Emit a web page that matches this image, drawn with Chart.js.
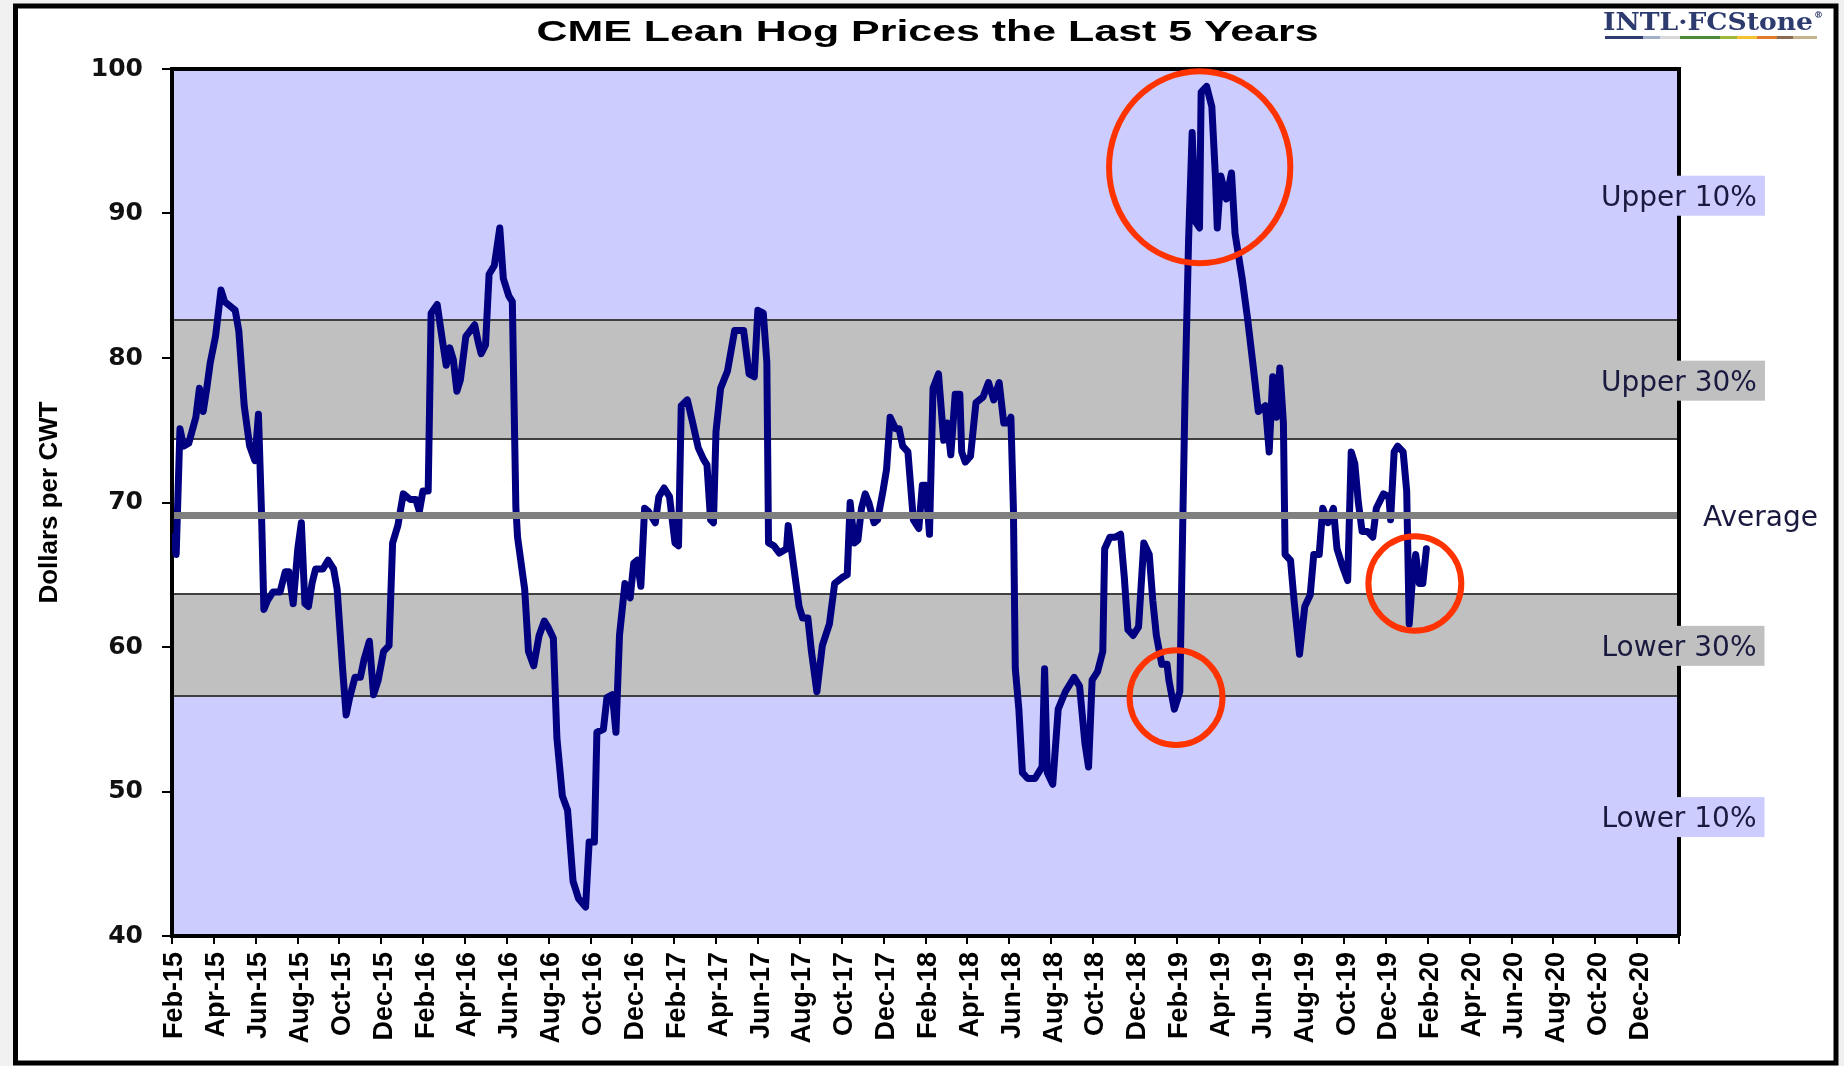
<!DOCTYPE html>
<html>
<head>
<meta charset="utf-8">
<title>CME Lean Hog Prices the Last 5 Years</title>
<script src="https://cdn.jsdelivr.net/npm/chart.js@4.4.1/dist/chart.umd.min.js"></script>
<style>
  html, body { margin: 0; padding: 0; background: #f0f0f0; }
  #caixa { width: 1844px; height: 1066px; position: relative; }
</style>
</head>
<body>
<div id="caixa"><canvas id="graficoSuinos"></canvas></div>
<script>
// Meses contados a partir de Feb-15 (0 = Feb-15, 12 = Feb-16, ...)
const mesesDesdeFev15 = [
    0, 0.20, 0.38, 0.55, 0.80, 1.14, 1.31, 1.49, 1.66, 1.83,
    2.08, 2.34, 2.51, 3.02, 3.19, 3.45, 3.71, 3.96, 4.13, 4.27,
    4.39, 4.56, 4.82, 5.16, 5.41, 5.58, 5.79, 6.01, 6.18, 6.35,
    6.52, 6.69, 6.86, 7.21, 7.46, 7.72, 7.89, 8.15, 8.32, 8.49,
    8.74, 9.00, 9.17, 9.43, 9.63, 9.85, 10.11, 10.37, 10.54, 10.79,
    11.05, 11.39, 11.65, 11.82, 11.99, 12.24, 12.38, 12.67, 12.93, 13.10,
    13.27, 13.44, 13.61, 13.78, 14.04, 14.46, 14.63, 14.77, 14.98, 15.15,
    15.40, 15.66, 15.83, 16.09, 16.26, 16.34, 16.43, 16.51, 16.85, 17.03,
    17.28, 17.54, 17.79, 17.96, 18.22, 18.39, 18.65, 18.90, 19.16, 19.42,
    19.76, 19.93, 20.18, 20.30, 20.61, 20.78, 21.04, 21.21, 21.38, 21.64,
    21.89, 22.06, 22.23, 22.40, 22.58, 22.75, 23.09, 23.26, 23.51, 23.77,
    24.03, 24.20, 24.33, 24.62, 24.88, 25.14, 25.39, 25.56, 25.73, 25.87,
    25.99, 26.21, 26.54, 26.88, 27.31, 27.57, 27.82, 27.99, 28.25, 28.42,
    28.50, 28.76, 29.02, 29.36, 29.44, 29.70, 29.96, 30.13, 30.38, 30.55,
    30.81, 31.07, 31.41, 31.66, 32.01, 32.26, 32.40, 32.60, 32.77, 32.94,
    33.12, 33.29, 33.54, 33.71, 33.97, 34.14, 34.31, 34.57, 34.74, 34.91,
    35.16, 35.42, 35.68, 35.85, 36.02, 36.19, 36.36, 36.62, 36.87, 37.04,
    37.21, 37.42, 37.64, 37.73, 37.90, 38.15, 38.41, 38.75, 39.01, 39.26,
    39.52, 39.74, 39.95, 40.08, 40.20, 40.29, 40.46, 40.63, 40.88, 41.23,
    41.57, 41.69, 41.82, 42.08, 42.34, 42.68, 43.10, 43.36, 43.62, 43.79,
    43.96, 44.22, 44.47, 44.56, 44.81, 45.07, 45.32, 45.50, 45.67, 45.92,
    46.18, 46.43, 46.69, 46.86, 47.03, 47.29, 47.54, 47.63, 47.89, 48.15,
    48.40, 48.57, 48.74, 48.91, 49.09, 49.17, 49.43, 49.68, 49.85, 49.94,
    50.11, 50.37, 50.62, 50.79, 51.13, 51.39, 51.65, 51.90, 52.24, 52.42,
    52.59, 52.76, 52.93, 53.10, 53.18, 53.44, 53.61, 53.87, 54.12, 54.38,
    54.55, 54.81, 54.98, 55.23, 55.49, 55.66, 55.92, 56.17, 56.34, 56.51,
    56.68, 56.86, 57.11, 57.37, 57.54, 57.88, 58.14, 58.22, 58.39, 58.56,
    58.82, 58.99, 59.11, 59.25, 59.42, 59.59, 59.76, 59.93
];

// Preço do suíno magro (dólares por CWT), um valor para cada mês acima
const precosSuino = [
    67.6, 66.4, 75.1, 73.9, 74.1, 75.9, 77.9, 76.3, 77.9, 79.7,
    81.5, 84.7, 83.9, 83.3, 81.9, 76.7, 73.9, 72.9, 76.1, 69.6,
    62.6, 63.2, 63.8, 63.8, 65.2, 65.2, 63.0, 66.8, 68.6, 63.0,
    62.8, 64.4, 65.4, 65.4, 66.0, 65.4, 64.0, 58.5, 55.3, 56.5,
    57.9, 57.9, 59.1, 60.4, 56.7, 57.7, 59.7, 60.1, 67.2, 68.4,
    70.6, 70.2, 70.2, 69.4, 70.8, 70.8, 83.1, 83.7, 81.1, 79.5,
    80.7, 79.9, 77.7, 78.5, 81.5, 82.3, 81.1, 80.3, 80.9, 85.8,
    86.4, 89.0, 85.5, 84.3, 83.9, 77.1, 69.6, 67.6, 64.0, 59.7,
    58.7, 60.8, 61.8, 61.4, 60.6, 53.7, 49.7, 48.7, 43.8, 42.6,
    42.0, 46.5, 46.5, 54.1, 54.3, 56.5, 56.7, 54.1, 60.8, 64.4,
    63.4, 65.8, 66.0, 64.2, 69.6, 69.4, 68.6, 70.4, 71.0, 70.4,
    67.2, 67.0, 76.7, 77.1, 75.5, 73.8, 73.0, 72.6, 68.8, 68.6,
    74.9, 77.9, 79.1, 81.9, 81.9, 78.9, 78.7, 83.3, 83.1, 79.7,
    67.2, 67.0, 66.5, 66.8, 68.4, 65.6, 62.8, 62.0, 62.0, 59.7,
    56.9, 60.1, 61.6, 64.4, 64.8, 65.0, 70.0, 67.2, 67.4, 69.6,
    70.6, 70.0, 68.6, 68.8, 70.8, 72.3, 75.9, 75.1, 75.1, 73.9,
    73.5, 68.8, 68.2, 71.2, 71.2, 67.8, 77.9, 78.9, 74.3, 75.5,
    73.3, 77.5, 77.5, 73.5, 72.8, 73.2, 76.9, 77.3, 78.3, 77.1,
    78.3, 75.5, 75.5, 75.9, 69.6, 58.5, 55.7, 51.3, 50.9, 50.9,
    51.7, 58.5, 51.3, 50.5, 55.7, 56.9, 57.9, 57.3, 53.3, 51.7,
    57.7, 58.3, 59.7, 66.8, 67.6, 67.6, 67.8, 64.8, 61.2, 60.8,
    61.4, 67.2, 66.4, 63.2, 60.8, 58.8, 58.8, 57.7, 55.7, 56.9,
    77.5, 88.2, 95.6, 89.4, 89.0, 98.4, 98.8, 97.4, 92.6, 89.0,
    92.6, 91.0, 92.8, 88.6, 85.5, 82.7, 79.5, 76.3, 76.7, 73.5,
    78.7, 75.9, 79.3, 75.5, 66.4, 66.0, 63.2, 59.5, 62.8, 63.6,
    66.4, 66.4, 69.6, 68.6, 69.6, 66.8, 65.6, 64.6, 73.5, 72.7,
    70.0, 68.0, 68.0, 67.6, 69.6, 70.6, 70.4, 68.8, 73.5, 73.9,
    73.5, 70.8, 61.6, 64.4, 66.4, 64.4, 64.4, 66.8
];

// Rótulos do eixo X (um a cada 2 meses)
const rotulosEixoX = [
    'Feb-15', 'Apr-15', 'Jun-15', 'Aug-15', 'Oct-15', 'Dec-15',
    'Feb-16', 'Apr-16', 'Jun-16', 'Aug-16', 'Oct-16', 'Dec-16',
    'Feb-17', 'Apr-17', 'Jun-17', 'Aug-17', 'Oct-17', 'Dec-17',
    'Feb-18', 'Apr-18', 'Jun-18', 'Aug-18', 'Oct-18', 'Dec-18',
    'Feb-19', 'Apr-19', 'Jun-19', 'Aug-19', 'Oct-19', 'Dec-19',
    'Feb-20', 'Apr-20', 'Jun-20', 'Aug-20', 'Oct-20', 'Dec-20'
];

// Faixas de percentil (limites em dólares) e seus nomes
const limitesFaixas = [40, 56.6, 63.7, 74.4, 82.6, 100];
const nomesFaixas = ['Lower 10%', 'Lower 30%', '', 'Upper 30%', 'Upper 10%'];
const mediaCinco = 69.1;

// Círculos vermelhos de destaque: centro (mês, preço) e raios
const destaqueMes = [49.1, 47.97, 59.38];
const destaquePreco = [93.2, 56.5, 64.4];
const destaqueRaioMes = [4.33, 2.22, 2.22];
const destaqueRaioPreco = [6.65, 3.28, 3.27];

const coresFaixas = ['#ccccff', '#c0c0c0', '#ffffff', '#c0c0c0', '#ccccff'];

// --- Plugin: moldura, faixas coloridas e bordas ---
const pluginFundo = {
    id: 'pluginFundo',
    beforeDraw(chart) {
        const { ctx, chartArea: a, scales: { y } } = chart;
        ctx.save();
        ctx.fillStyle = '#f0f0f0';
        ctx.fillRect(0, 0, chart.width, chart.height);
        ctx.fillStyle = '#ffffff';
        ctx.fillRect(15, 6, 1821, 1057);
        ctx.strokeStyle = '#000';
        ctx.lineWidth = 5;
        ctx.strokeRect(15.5, 6, 1820.5, 1057);

        for (let i = 0; i < coresFaixas.length; i++) {
            const yBaixo = y.getPixelForValue(limitesFaixas[i]);
            const yAlto = y.getPixelForValue(limitesFaixas[i + 1]);
            ctx.fillStyle = coresFaixas[i];
            ctx.fillRect(a.left, yAlto, a.right - a.left, yBaixo - yAlto);
        }
        ctx.strokeStyle = '#404040';
        ctx.lineWidth = 2;
        for (let i = 1; i < limitesFaixas.length - 1; i++) {
            const py = Math.round(y.getPixelForValue(limitesFaixas[i]));
            ctx.beginPath();
            ctx.moveTo(a.left, py);
            ctx.lineTo(a.right, py);
            ctx.stroke();
        }
        ctx.strokeStyle = '#000';
        ctx.lineWidth = 4;
        ctx.beginPath();
        ctx.moveTo(a.left, a.top);
        ctx.lineTo(a.right, a.top);
        ctx.lineTo(a.right, a.bottom);
        ctx.stroke();
        ctx.restore();
    },
    afterDatasetsDraw(chart) {
        // linha da média por cima da série
        const { ctx, chartArea: a, scales: { y } } = chart;
        const py = y.getPixelForValue(mediaCinco);
        ctx.save();
        ctx.strokeStyle = '#808080';
        ctx.lineWidth = 7;
        ctx.beginPath();
        ctx.moveTo(a.left + 2, py);
        ctx.lineTo(a.right - 2, py);
        ctx.stroke();
        ctx.restore();
    },
    afterDraw(chart) {
        const { ctx, chartArea: a, scales: { x, y } } = chart;
        ctx.save();

        // título esticado na horizontal, como na imagem original
        ctx.font = 'bold 30px "Liberation Sans"';
        ctx.fillStyle = '#000';
        ctx.textAlign = 'center';
        ctx.textBaseline = 'alphabetic';
        const titulo = 'CME Lean Hog Prices the Last 5 Years';
        const larguraTitulo = ctx.measureText(titulo).width;
        ctx.save();
        ctx.translate((a.left + a.right) / 2 + 2, 41);
        ctx.scale(782 / larguraTitulo, 1);
        ctx.fillText(titulo, 0, 0);
        ctx.restore();

        // logotipo
        ctx.font = 'bold 24px "DejaVu Serif"';
        ctx.fillStyle = '#2e3b6e';
        ctx.textAlign = 'left';
        const logo = 'INTL\u00b7FCStone';
        const larguraLogo = ctx.measureText(logo).width;
        ctx.save();
        ctx.translate(1603, 30);
        ctx.scale(210 / larguraLogo, 1);
        ctx.fillText(logo, 0, 0);
        ctx.restore();
        ctx.font = 'bold 9px "DejaVu Serif"';
        ctx.fillText('\u00ae', 1814, 18);
        const pedacos = [
            [1605, 1643, '#2e3b6e'], [1643, 1660, '#9fb0c8'], [1660, 1680, '#d8d8d8'],
            [1680, 1720, '#4a8a3a'], [1720, 1737, '#9cb83a'], [1737, 1757, '#f2c230'],
            [1757, 1777, '#e07b2a'], [1777, 1793, '#8a6a50'], [1793, 1817, '#c8b48a']
        ];
        pedacos.forEach(([x1, x2, cor]) => {
            ctx.fillStyle = cor;
            ctx.fillRect(x1, 36, x2 - x1, 3);
        });

        // rótulos das faixas, centrados na borda direita do gráfico
        ctx.font = '28px "DejaVu Sans"';
        ctx.textAlign = 'center';
        ctx.textBaseline = 'middle';
        for (let i = 0; i < nomesFaixas.length; i++) {
            if (!nomesFaixas[i]) continue;
            const cy = (y.getPixelForValue(limitesFaixas[i]) + y.getPixelForValue(limitesFaixas[i + 1])) / 2;
            const w = ctx.measureText(nomesFaixas[i]).width + 16;
            ctx.fillStyle = coresFaixas[i];
            ctx.fillRect(a.right - w / 2, cy - 19, w, 40);
            ctx.fillStyle = '#1a1a40';
            ctx.fillText(nomesFaixas[i], a.right, cy + 4);
        }
        ctx.textAlign = 'left';
        ctx.fillText('Average', a.right + 24, y.getPixelForValue(mediaCinco) + 3);

        // círculos vermelhos
        ctx.strokeStyle = '#ff3300';
        ctx.lineWidth = 6;
        for (let i = 0; i < destaqueMes.length; i++) {
            const cx = x.getPixelForValue(destaqueMes[i]);
            const cy = y.getPixelForValue(destaquePreco[i]);
            const rx = x.getPixelForValue(destaqueMes[i] + destaqueRaioMes[i]) - cx;
            const ry = cy - y.getPixelForValue(destaquePreco[i] + destaqueRaioPreco[i]);
            ctx.beginPath();
            ctx.ellipse(cx, cy, rx, ry, 0, 0, Math.PI * 2);
            ctx.stroke();
        }
        ctx.restore();
    }
};

document.addEventListener('DOMContentLoaded', function() {
    const ctx = document.getElementById('graficoSuinos').getContext('2d');

    const pontos = mesesDesdeFev15.map((m, i) => ({ x: m, y: precosSuino[i] }));

    new Chart(ctx, {
        type: 'line',
        data: {
            datasets: [{
                label: 'Lean Hogs',
                data: pontos,
                borderColor: '#000080',
                borderWidth: 7,
                pointRadius: 0,
                tension: 0,
                borderJoinStyle: 'round',
                borderCapStyle: 'round'
            }]
        },
        options: {
            responsive: true,
            maintainAspectRatio: false,
            devicePixelRatio: 1,
            animation: false,
            events: [],
            layout: { padding: { left: 20, right: 165, top: 69, bottom: 10 } },
            plugins: {
                legend: { display: false },
                title: { display: false },
                tooltip: { enabled: false }
            },
            scales: {
                x: {
                    type: 'linear',
                    min: 0,
                    max: 72,
                    ticks: {
                        stepSize: 2,
                        autoSkip: false,
                        maxRotation: 90,
                        minRotation: 90,
                        padding: 8,
                        labelOffset: 3,
                        color: '#000',
                        font: { family: 'Liberation Sans', weight: 'bold', size: 27 },
                        callback: (valor) => rotulosEixoX[Math.round(valor / 2)] ?? ''
                    },
                    grid: { drawOnChartArea: false, drawTicks: true, tickLength: 8, color: '#000', lineWidth: 2 },
                    border: { color: '#000', width: 4 },
                    afterFit: (escala) => { escala.height = 1066 - 936 - 10; }
                },
                y: {
                    min: 40,
                    max: 100,
                    ticks: {
                        stepSize: 10,
                        padding: 19,
                        color: '#111',
                        font: { family: 'DejaVu Sans', weight: 'bold', size: 25 }
                    },
                    grid: { drawOnChartArea: false, drawTicks: true, tickLength: 10, color: '#000', lineWidth: 2 },
                    border: { color: '#000', width: 4 },
                    title: {
                        display: true,
                        text: 'Dollars per CWT',
                        color: '#000',
                        font: { family: 'Liberation Sans', weight: 'bold', size: 26 },
                        padding: { top: 14, bottom: 0 }
                    },
                    afterFit: (escala) => { escala.width = 152; }
                }
            }
        },
        plugins: [pluginFundo]
    });
});
</script>
</body>
</html>
